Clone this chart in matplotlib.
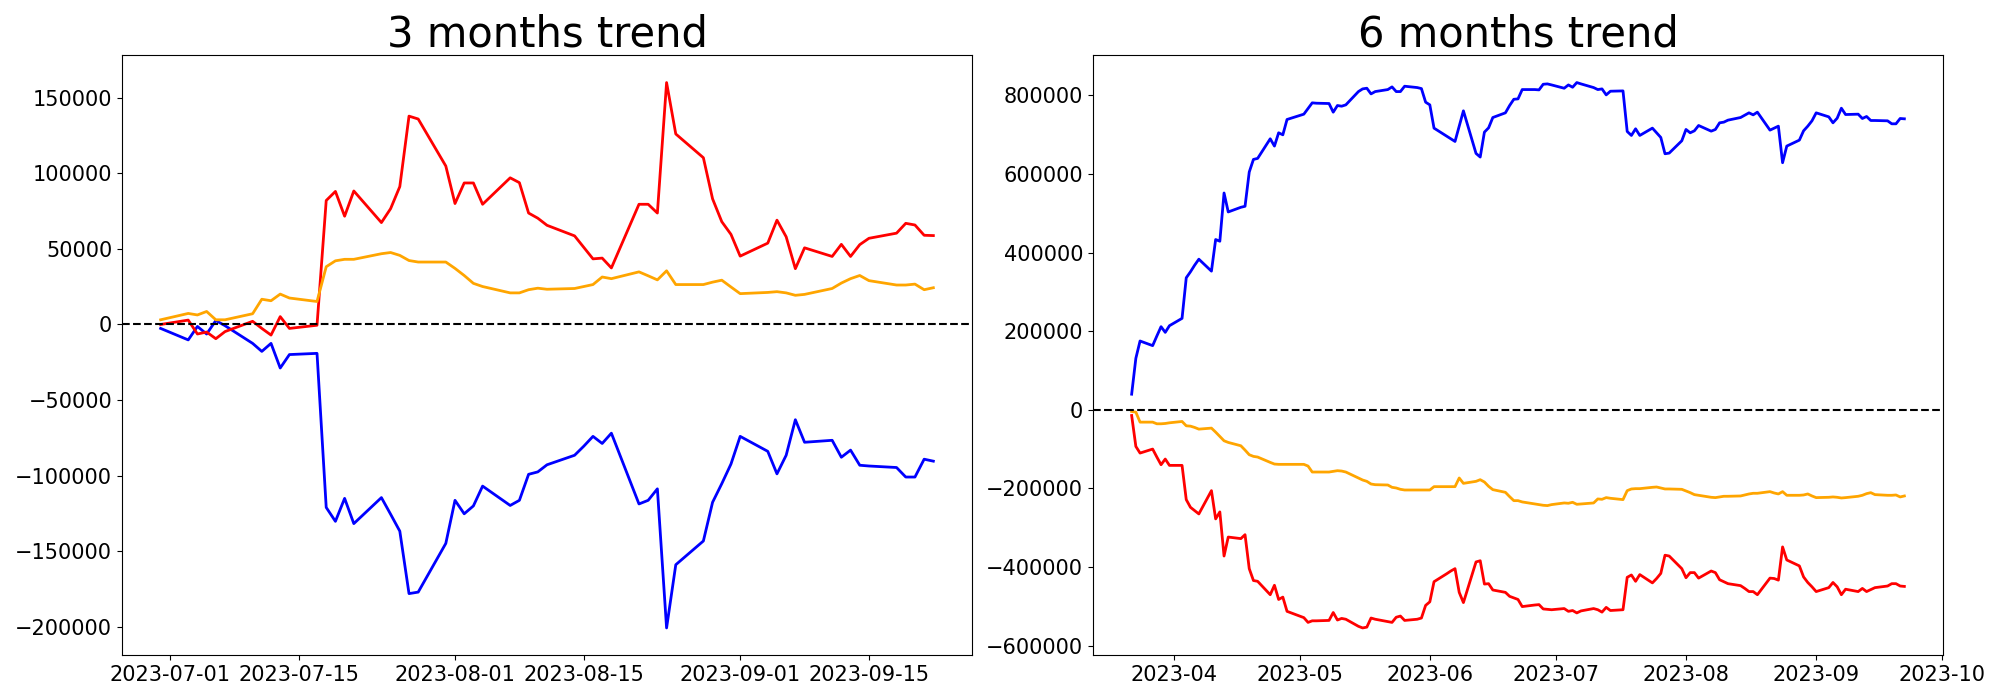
import pandas as pd
import matplotlib
matplotlib.use("Agg")
import matplotlib.pyplot as plt

# business days covered by each panel
start_3m, end_3m = "2023-06-30", "2023-09-22"
start_6m, end_6m = "2023-03-22", "2023-09-22"

# 3 months trend
blue_3m = [
    -2600,
    -10200, -1300, -6300, 2600, -800,
    -12500, -17800, -12500, -28800, -19900,
    -19100, -121000, -130200, -115000, -131700,
    -114500, -125500, -136700, -178000, -177000,
    -144800,
    -116300, -125200, -120000, -106900,
    -119700, -116300, -99100, -97500, -92800,
    -86500, -80500, -74000, -78700, -71900,
    -118700, -116300, -108700, -200700, -158900,
    -143200, -117600, -105300, -92300,
    -74000,
    -83900, -98800, -86500, -63000, -77900,
    -76600, -87800, -83100, -93100, -93600,
    -94600, -100900, -100900, -89100, -90400,
]
red_3m = [
    0,
    2900, -6300, -5000, -9400, -4700,
    2100, -2600, -7000, 5200, -2600,
    -500, 82000, 88000, 71600, 88300,
    67400, 76600, 91200, 137800, 135900,
    104800,
    80000, 93600, 93600, 79500,
    97000, 93800, 73700, 70300, 65600,
    58600, 51000, 43400, 43900, 37400,
    79500, 79500, 73700, 160000, 126000,
    110300, 83100, 68000, 59600,
    45200,
    53800, 69000, 58000, 36900, 50700,
    45000, 53000, 45000, 52800, 57000,
    60400, 66900, 65800, 59000, 58800,
]
orange_3m = [
    3100,
    7300, 6300, 8600, 3100, 3100,
    7100, 16700, 15700, 20100, 17500,
    15200, 38200, 42100, 43100, 43100,
    46800, 47600, 45700, 42300, 41300,
    41300,
    37100, 32400, 27200, 25100,
    20900, 20900, 23000, 24000, 23300,
    23800, 25100, 26400, 31400, 30300,
    34800, 32200, 29500, 35500, 26400,
    26400, 28000, 29300, 24800,
    20400,
    21200, 21700, 20900, 19300, 19900,
    23800, 27400, 30300, 32400, 29000,
    26100, 26100, 26700, 23000, 24300,
]

# 6 months trend
blue_6m = [
    39800, 131100, 175100, 163300, 187800, 211500, 197100, 214000,
    232700, 335900, 351100, 368000, 383200,
    352800, 433200, 428900, 551600, 503400,
    515200, 517800, 604900, 637000, 639600,
    689500, 670900, 704700, 699600, 738600,
    748700, 752100, 766500, 780900, 780000,
    779200, 757200, 774100, 772400, 775800,
    809600, 816400, 818100, 803700, 809600,
    814700, 821500, 809600, 809600, 823200,
    819800, 817200, 782600,
    775800, 716600,
    696300, 689500, 682700, 721600, 760600,
    652300, 643000, 706400, 717400, 743600,
    755500, 774100, 790000, 791000, 814700,
    814700, 813900, 828200, 829100, 826500,
    818100, 826500, 820600, 832500, 829100,
    819800, 814700, 816400, 801200, 810500,
    811300, 708100, 698000, 714900, 698000,
    716600, 704700, 692900, 651400, 653100,
    684400,
    713200, 704700, 709800, 723300,
    708900, 713200, 730100, 731800, 736900,
    743600, 749600, 755500, 750400, 757200,
    711500, 716600, 721600, 628600, 670900,
    686100, 709800, 721600, 735200,
    755500,
    745300, 730100, 741900, 767300, 751200,
    752100, 741100, 746200, 736000, 736000,
    735200, 727600, 727600, 741100, 740300,
]
red_6m = [
    -14400, -93100, -110000, -99800, -120100, -139600, -125200, -141300,
    -141300, -228400, -247900, -256300, -264800,
    -205600, -277500, -259700, -371900, -323600,
    -327600, -317600, -404000, -434200, -436200,
    -470300, -446200, -482400, -476400, -512600,
    -524600, -528600, -540700, -536700, -536700,
    -535700, -515600, -534700, -530600, -532700,
    -550700, -554800, -552800, -529600, -532700,
    -538700, -540700, -527600, -524600, -535700,
    -532700, -529600, -497500,
    -488400, -437200,
    -417100, -410000, -404000, -464300, -490400,
    -386900, -383900, -443200, -442200, -458300,
    -464300, -474400, -478400, -482400, -500500,
    -496500, -495500, -506500, -507500, -508500,
    -505500, -512600, -510500, -516600, -511500,
    -505500, -508500, -514600, -502500, -510500,
    -508500, -426100, -420100, -436200, -419100,
    -440200, -429100, -416100, -369800, -371900,
    -404000,
    -427100, -414100, -414100, -428100,
    -410000, -414100, -432200, -437200, -442200,
    -447200, -454300, -462300, -462300, -470300,
    -428100, -429100, -433200, -348700, -381900,
    -397000, -425100, -439200, -450200,
    -462300,
    -452300, -439200, -450200, -470300, -456300,
    -462300, -454300, -462300, -457300, -452300,
    -448200, -442200, -442200, -448200, -449200,
]
orange_6m = [
    -4200, -5900, -31300, -31300, -35500, -35500, -34700, -33000,
    -29600, -40600, -41500, -44800, -49100,
    -46500, -56700, -67700, -78700, -82900,
    -91400, -102400, -114200, -118400, -120100,
    -133700, -137900, -138700, -138700, -138700,
    -138700, -138700, -143000, -158200, -158200,
    -158200, -156500, -154800, -155700, -158200,
    -173400, -178500, -181900, -188700, -190400,
    -191200, -197100, -198800, -202200, -203900,
    -203900, -203900, -203900,
    -203900, -195400,
    -195400, -195400, -195400, -173400, -187000,
    -181900, -177700, -183600, -194600, -203000,
    -209800, -220800, -231000, -231000, -234300,
    -239400, -241100, -242800, -243600, -241100,
    -236900, -237700, -235200, -240300, -239400,
    -236900, -226700, -227600, -223300, -225000,
    -228400, -205600, -201300, -200500, -200500,
    -197100, -196300, -198800, -201300, -201300,
    -202200,
    -206400, -210600, -215700, -217400,
    -222500, -223300, -221600, -219900, -219900,
    -219100, -216600, -214000, -212300, -212300,
    -208100, -211500, -214000, -208100, -217400,
    -217400, -216600, -214000, -219100,
    -223300,
    -222500, -221600, -222500, -224200, -223300,
    -219900, -217400, -213200, -210700, -215700,
    -217400, -217400, -216600, -221600, -219100,
]


def draw_trend(ax, dates, blue, red, orange, title):
    ax.plot(dates, blue, color="blue", linewidth=2)
    ax.plot(dates, red, color="red", linewidth=2)
    ax.plot(dates, orange, color="orange", linewidth=2)
    ax.axhline(0, color="black", linestyle="--")
    ax.set_title(title, fontsize=30)
    ax.tick_params(labelsize=15)


def main():
    dates_3m = pd.bdate_range(start_3m, end_3m)
    dates_6m = pd.bdate_range(start_6m, end_6m)

    fig, (ax1, ax2) = plt.subplots(1, 2, figsize=(20, 7), dpi=100)
    draw_trend(ax1, dates_3m, blue_3m, red_3m, orange_3m, "3 months trend")
    draw_trend(ax2, dates_6m, blue_6m, red_6m, orange_6m, "6 months trend")

    fig.subplots_adjust(left=0.061, right=0.9715, bottom=0.064, top=0.921,
                        wspace=0.1424)
    fig.savefig("out.png")


if __name__ == '__main__':
    main()
